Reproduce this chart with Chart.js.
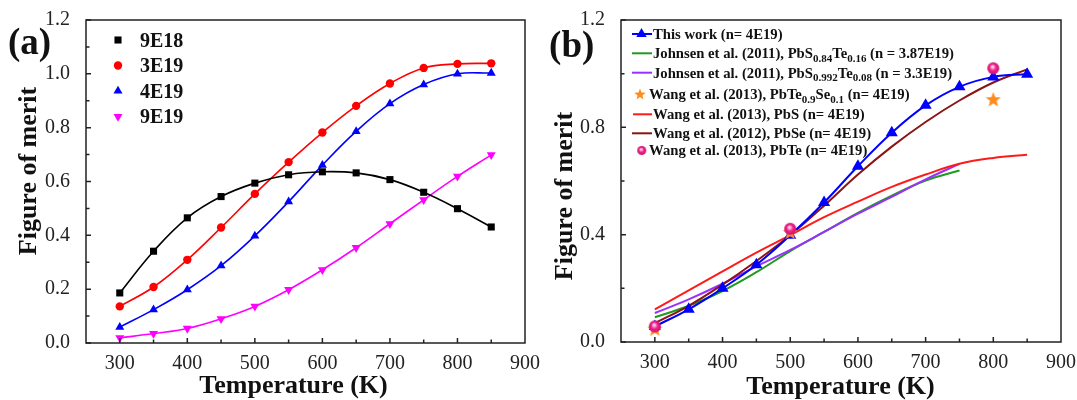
<!DOCTYPE html>
<html>
<head>
<meta charset="utf-8">
<script src="https://cdn.jsdelivr.net/npm/chart.js@4.4.0/dist/chart.umd.min.js"></script>
<style>
  html, body { margin: 0; padding: 0; background: #fff; }
  #wrap { position: relative; width: 1077px; height: 400px; overflow: hidden; }
  .panel { position: absolute; top: 0; }
  #pa { left: 0; }
  #pb { left: 540px; }
</style>
</head>
<body>
<div id="wrap">
  <div class="panel" id="pa"><canvas id="chartA" width="550" height="400"></canvas></div>
  <div class="panel" id="pb"><canvas id="chartB" width="537" height="400"></canvas></div>
</div>
<script>
// --- Data: panel (a) ---
const temps = [300, 350, 400, 450, 500, 550, 600, 650, 700, 750, 800, 850];
const namesA = ['9E18', '3E19', '4E19', '9E19'];
const zt9e18 = [0.186, 0.341, 0.465, 0.544, 0.594, 0.625, 0.636, 0.632, 0.607, 0.560, 0.499, 0.431];
const zt3e19 = [0.136, 0.208, 0.309, 0.429, 0.554, 0.672, 0.782, 0.881, 0.964, 1.022, 1.037, 1.039];
const zt4e19 = [0.059, 0.124, 0.198, 0.287, 0.398, 0.525, 0.661, 0.786, 0.889, 0.960, 1.000, 1.003];
const zt9e19 = [0.019, 0.035, 0.054, 0.090, 0.136, 0.198, 0.272, 0.354, 0.443, 0.532, 0.619, 0.699];

// --- Data: panel (b) ---
const tempsShort = [300, 350, 400, 450, 500, 550, 600, 650, 700, 750];
const pointTemps = [300, 500, 800];
const namesB = [
  'This work (n= 4E19)',
  'Johnsen et al. (2011), PbS_{0.84}Te_{0.16} (n = 3.87E19)',
  'Johnsen et al. (2011), PbS_{0.992}Te_{0.08} (n = 3.3E19)',
  'Wang et al. (2013), PbTe_{0.9}Se_{0.1} (n= 4E19)',
  'Wang et al. (2013), PbS (n= 4E19)',
  'Wang et al. (2012), PbSe (n= 4E19)',
  'Wang et al. (2013), PbTe (n= 4E19)'
];
const thisWork = [0.058, 0.122, 0.200, 0.288, 0.398, 0.520, 0.655, 0.780, 0.882, 0.951, 0.988, 0.998];
const johnsen084 = [0.092, 0.135, 0.190, 0.260, 0.339, 0.410, 0.481, 0.545, 0.602, 0.639];
const johnsen0992 = [0.108, 0.159, 0.217, 0.282, 0.343, 0.410, 0.478, 0.541, 0.606, 0.664];
const wangPbTeSe = [0.050, 0.410, 0.905];
const wangPbS = [0.122, 0.192, 0.263, 0.333, 0.398, 0.465, 0.523, 0.578, 0.624, 0.664, 0.686, 0.698];
const wangPbSe = [0.070, 0.135, 0.214, 0.302, 0.398, 0.508, 0.624, 0.728, 0.820, 0.900, 0.967, 1.016];
const wangPbTe = [0.058, 0.422, 1.020];

// --- Axis ticks ---
const xTicks = [300, 400, 500, 600, 700, 800, 900];
const yTicksA = [0, 0.2, 0.4, 0.6, 0.8, 1.0, 1.2];
const yTicksB = [0, 0.4, 0.8, 1.2];

const SERIF = '"Liberation Serif", "Times New Roman", serif';
const xy = (xs, ys) => xs.map((x, i) => ({ x, y: ys[i] }));

// --- Marker helpers ---
function drawMarker(ctx, kind, x, y, r, color) {
  ctx.save();
  ctx.fillStyle = color;
  ctx.beginPath();
  if (kind === 'rect') {
    const s = r * Math.SQRT1_2;
    ctx.rect(x - s, y - s, 2 * s, 2 * s);
  } else if (kind === 'circle') {
    ctx.arc(x, y, r, 0, Math.PI * 2);
  } else if (kind === 'triangle' || kind === 'triangleDown') {
    const d = kind === 'triangle' ? 1 : -1;
    ctx.moveTo(x, y - d * r);
    ctx.lineTo(x + r * 0.866, y + d * r / 2);
    ctx.lineTo(x - r * 0.866, y + d * r / 2);
    ctx.closePath();
  }
  ctx.fill();
  ctx.restore();
}

function makeStar(r, color) {
  const c = document.createElement('canvas');
  c.width = c.height = Math.ceil(r * 2 + 2);
  const g = c.getContext('2d');
  const cx = c.width / 2, cy = c.height / 2 + r * 0.1;
  g.fillStyle = color;
  g.beginPath();
  for (let i = 0; i < 10; i++) {
    const rr = i % 2 === 0 ? r : r * 0.42;
    const ang = -Math.PI / 2 + i * Math.PI / 5;
    g.lineTo(cx + rr * Math.cos(ang), cy + rr * Math.sin(ang));
  }
  g.closePath();
  g.fill();
  return c;
}

function makeSphere(r) {
  const c = document.createElement('canvas');
  c.width = c.height = Math.ceil(r * 2 + 2);
  const g = c.getContext('2d');
  const cx = c.width / 2, cy = c.height / 2;
  const grad = g.createRadialGradient(cx - r * 0.15, cy - r * 0.3, 0, cx, cy, r);
  grad.addColorStop(0, '#ffffff');
  grad.addColorStop(0.25, '#ff9cd0');
  grad.addColorStop(0.55, '#f0208a');
  grad.addColorStop(1, '#d0106e');
  g.fillStyle = grad;
  g.beginPath();
  g.arc(cx, cy, r, 0, Math.PI * 2);
  g.fill();
  return c;
}

const starBig = makeStar(8, '#ff8c1a');
const starSmall = makeStar(6, '#ff8c1a');
const sphereBig = makeSphere(6);
const sphereSmall = makeSphere(4.5);

// draws text with _{...} subscripts, vertically centred on y
function drawRich(ctx, text, x, y, size, subSize) {
  const base = y + size * 0.33;
  ctx.textBaseline = 'alphabetic';
  ctx.textAlign = 'left';
  text.split(/(_\{[^}]*\})/).forEach(part => {
    if (!part) return;
    const sub = part.startsWith('_{');
    const t = sub ? part.slice(2, -1) : part;
    ctx.font = `bold ${sub ? subSize : size}px ${SERIF}`;
    ctx.fillText(t, x, sub ? base + size * 0.25 : base);
    x += ctx.measureText(t).width;
  });
}

// --- Frame, inward ticks, titles and legend ---
const panelPlugin = {
  id: 'panel',
  afterDatasetsDraw(chart, args, opts) {
    const { ctx, chartArea: a, scales: { x, y } } = chart;
    ctx.save();
    ctx.strokeStyle = '#222';
    ctx.lineWidth = 1.5;
    ctx.strokeRect(a.left, a.top, a.right - a.left, a.bottom - a.top);

    ctx.beginPath();
    for (let v = 300; v < 900; v += 50) {
      const px = x.getPixelForValue(v);
      const len = v % 100 === 0 ? 5 : 3.5;
      ctx.moveTo(px, a.bottom);
      ctx.lineTo(px, a.bottom - len);
    }
    const yt = opts.yTicks;
    const step = yt[1] - yt[0];
    for (let i = 0; i < yt.length; i++) {
      const py = y.getPixelForValue(yt[i]);
      ctx.moveTo(a.left, py);
      ctx.lineTo(a.left + 5, py);
      if (i < yt.length - 1) {
        const pm = y.getPixelForValue(yt[i] + step / 2);
        ctx.moveTo(a.left, pm);
        ctx.lineTo(a.left + 3.5, pm);
      }
    }
    ctx.stroke();

    // panel label and axis titles
    ctx.fillStyle = '#111';
    ctx.textAlign = 'center';
    ctx.textBaseline = 'middle';
    ctx.font = `bold 37px ${SERIF}`;
    ctx.fillText(opts.label, opts.labelPos[0], opts.labelPos[1]);
    ctx.font = `bold 26px ${SERIF}`;
    ctx.fillText('Temperature (K)', opts.xTitlePos[0], opts.xTitlePos[1]);
    ctx.save();
    ctx.translate(opts.yTitlePos[0], opts.yTitlePos[1]);
    ctx.rotate(-Math.PI / 2);
    ctx.fillText('Figure of merit', 0, 0);
    ctx.restore();

    // legend
    opts.legend.forEach(item => {
      const mx = item.markerX;
      if (item.line) {
        ctx.strokeStyle = item.color;
        ctx.lineWidth = 2;
        ctx.beginPath();
        ctx.moveTo(item.line[0], item.y);
        ctx.lineTo(item.line[1], item.y);
        ctx.stroke();
      }
      if (item.marker === 'star') ctx.drawImage(starSmall, mx - starSmall.width / 2, item.y - starSmall.height / 2);
      else if (item.marker === 'sphere') ctx.drawImage(sphereSmall, mx - sphereSmall.width / 2, item.y - sphereSmall.height / 2);
      else if (item.marker) drawMarker(ctx, item.marker, mx, item.y, item.r, item.color);
      ctx.fillStyle = '#111';
      drawRich(ctx, item.text, item.textX, item.y, opts.legendFont, opts.legendSub);
    });
    ctx.restore();
  }
};

function makeOptions(cfg) {
  const tickFont = { family: SERIF, size: 20 };
  return {
    responsive: false,
    animation: false,
    layout: { padding: cfg.padding },
    elements: { line: { tension: 0.4 } },
    scales: {
      x: {
        type: 'linear', min: 250, max: 900,
        afterBuildTicks: s => { s.ticks = xTicks.map(v => ({ value: v })); },
        afterFit: s => { s.height = cfg.xHeight; },
        grid: { display: false }, border: { display: false },
        ticks: { padding: 1, color: '#222', font: tickFont, maxRotation: 0, autoSkip: false, callback: v => String(v) }
      },
      y: {
        type: 'linear', min: 0, max: 1.2,
        afterBuildTicks: s => { s.ticks = cfg.yTicks.map(v => ({ value: v })); },
        afterFit: s => { s.width = cfg.yWidth; },
        grid: { display: false }, border: { display: false },
        ticks: { padding: 8, color: '#222', font: tickFont, autoSkip: false, callback: v => v.toFixed(1) }
      }
    },
    plugins: { legend: { display: false }, tooltip: { enabled: false }, panel: cfg.panel }
  };
}

// --- Panel (a) ---
const colorsA = ['#000000', '#ff0000', '#0000ff', '#ff00ff'];
const stylesA = ['rect', 'circle', 'triangle', 'triangleDown'];
const radiiA = [5, 4.2, 5.2, 5.2];
const seriesA = [zt9e18, zt3e19, zt4e19, zt9e19];

new Chart(document.getElementById('chartA'), {
  type: 'line',
  data: {
    datasets: seriesA.map((vals, i) => ({
      label: namesA[i],
      data: xy(temps, vals),
      borderColor: colorsA[i],
      backgroundColor: colorsA[i],
      borderWidth: 1.6,
      pointStyle: stylesA[i] === 'triangleDown' ? 'triangle' : stylesA[i],
      rotation: stylesA[i] === 'triangleDown' ? 180 : 0,
      pointRadius: radiiA[i],
      pointBorderWidth: 0,
      clip: false
    }))
  },
  options: makeOptions({
    padding: { left: 0, top: 20, right: 25, bottom: 0 },
    xHeight: 57, yWidth: 86, yTicks: yTicksA,
    panel: {
      yTicks: yTicksA,
      label: '(a)', labelPos: [29.6, 44],
      xTitlePos: [293.5, 386], yTitlePos: [29, 171],
      legendFont: 20, legendSub: 14,
      legend: namesA.map((n, i) => ({
        text: n, marker: stylesA[i], color: colorsA[i], r: radiiA[i],
        markerX: 118, textX: 140, y: 40 + i * 25.5
      }))
    }
  }),
  plugins: [panelPlugin]
});

// --- Panel (b) ---
const colB = {
  blue: '#0000ff', green: '#1e9a1e', purple: '#9a30ff', orange: '#ff8c1a',
  red: '#ff1a1a', dark: '#8b1414'
};

const lineSet = (label, data, color, order) => ({
  label, data, borderColor: color, backgroundColor: color,
  borderWidth: 2, pointRadius: 0, order
});

new Chart(document.getElementById('chartB'), {
  type: 'line',
  data: {
    datasets: [
      { label: namesB[6], data: xy(pointTemps, wangPbTe), showLine: false,
        pointStyle: sphereBig, pointRadius: 6, order: 0, clip: false },
      { label: namesB[3], data: xy(pointTemps, wangPbTeSe), showLine: false,
        pointStyle: starBig, pointRadius: 8, order: 1, clip: false },
      { label: namesB[0], data: xy(temps, thisWork), borderColor: colB.blue, backgroundColor: colB.blue,
        borderWidth: 2, pointStyle: 'triangle', pointRadius: 7, pointBorderWidth: 0, order: 2, clip: false },
      lineSet(namesB[5], xy(temps, wangPbSe), colB.dark, 3),
      lineSet(namesB[4], xy(temps, wangPbS), colB.red, 4),
      lineSet(namesB[2], xy(tempsShort, johnsen0992), colB.purple, 5),
      lineSet(namesB[1], xy(tempsShort, johnsen084), colB.green, 6)
    ]
  },
  options: makeOptions({
    padding: { left: 0, top: 19, right: 16, bottom: 0 },
    xHeight: 58, yWidth: 81, yTicks: yTicksB,
    panel: {
      yTicks: yTicksB,
      label: '(b)', labelPos: [31.7, 47.5],
      xTitlePos: [300.5, 387], yTitlePos: [25.7, 196],
      legendFont: 14.7, legendSub: 11,
      legend: [
        { text: namesB[0], line: [92, 112], marker: 'triangle', r: 6, color: colB.blue, markerX: 101.5, textX: 113, y: 34 },
        { text: namesB[1], line: [92, 112], color: colB.green, textX: 113, y: 53.3 },
        { text: namesB[2], line: [92, 112], color: colB.purple, textX: 113, y: 72.7 },
        { text: namesB[3], marker: 'star', markerX: 100, textX: 109, y: 94 },
        { text: namesB[4], line: [93, 112], color: colB.red, textX: 113, y: 114.3 },
        { text: namesB[5], line: [92, 112], color: colB.dark, textX: 113, y: 133.3 },
        { text: namesB[6], marker: 'sphere', markerX: 101.7, textX: 109, y: 150.5 }
      ]
    }
  }),
  plugins: [panelPlugin]
});
</script>
</body>
</html>
